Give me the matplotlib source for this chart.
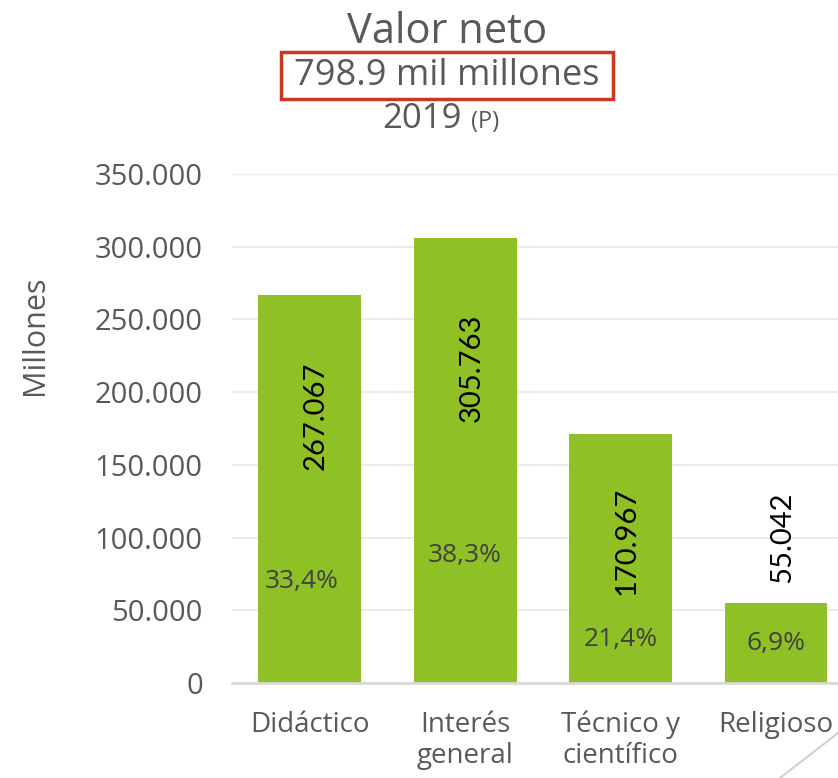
import matplotlib
matplotlib.use("Agg")
import matplotlib.pyplot as plt
from matplotlib.ticker import FuncFormatter, MultipleLocator
from matplotlib.patches import Rectangle
from matplotlib.lines import Line2D

# datos
categorias = ["Didáctico", "Interés\ngeneral", "Técnico y\ncientífico", "Religioso"]
valores = [267067, 305763, 170967, 55042]
porcentajes = ["33,4%", "38,3%", "21,4%", "6,9%"]

# posicion vertical (centro) de las etiquetas, en millones
pos_valor = [184000, 217000, 98000, 100000]
pos_pct = [70000, 88000, 30000, 27000]

VERDE = "#8FC127"
GRIS = "#595959"
FUENTE = "Open Sans"

plt.rcParams["font.family"] = FUENTE

fig = plt.figure(figsize=(8.38, 7.78), dpi=100)
ax = fig.add_axes([0.2768, 0.1221, 0.7422, 0.6542])

x = range(len(categorias))
ax.bar(x, valores, width=0.66, color=VERDE, zorder=2)

for i, v in enumerate(valores):
    txt = f"{v:,}".replace(",", ".")
    ax.text(i + 0.04, pos_valor[i], txt, rotation=90, ha="center", va="center",
            fontsize=21, color="black", family="Lato", zorder=3)
    ax.text(i - 0.05 if i == 0 else i, pos_pct[i], porcentajes[i], ha="center", va="center",
            fontsize=19, color="#404040", zorder=3)

ax.set_xlim(-0.5, 3.5)
ax.set_ylim(0, 350000)
ax.yaxis.set_major_locator(MultipleLocator(50000))
ax.yaxis.set_major_formatter(FuncFormatter(lambda v, p: f"{int(v):,}".replace(",", ".")))
ax.grid(axis="y", color="#EBEBEB", lw=1.5, zorder=0)
ax.set_axisbelow(True)
for s in ["top", "right", "left"]:
    ax.spines[s].set_visible(False)
ax.spines["bottom"].set_color("#D9D9D9")
ax.spines["bottom"].set_linewidth(2)
ax.spines["bottom"].set_zorder(4)

ax.set_xticks(list(x))
ax.set_xticklabels(categorias, fontsize=20, color=GRIS, linespacing=1.15)
ax.tick_params(axis="x", length=0, pad=20)
ax.tick_params(axis="y", length=0, pad=21, labelsize=21, labelcolor=GRIS)

fig.text(0.042, 0.5694, "Millones", rotation=90, ha="center", va="center",
         fontsize=22, color=GRIS)

# titulos
fig.text(0.533, 0.9447, "Valor neto", ha="center", va="baseline", fontsize=30, color=GRIS)
fig.text(0.533, 0.8907, "798.9 mil millones", ha="center", va="baseline", fontsize=26, color=GRIS)
fig.add_artist(Rectangle((281 / 838, 1 - 99 / 778), 332 / 838, 47 / 778,
                         transform=fig.transFigure, fill=False, ec="#C63A22", lw=2.5))
fig.text(0.5513, 0.8355, "2019", ha="right", va="baseline", fontsize=25, color=GRIS)
fig.text(0.562, 0.8355, "(P)", ha="left", va="baseline", fontsize=17, color=GRIS)

# linea decorativa
fig.add_artist(Line2D([780 / 838, 1.0], [0.0, 1 - 733 / 778], transform=fig.transFigure,
                      color="#D0D0D0", lw=1.5))

fig.savefig("out.png", dpi=100)
